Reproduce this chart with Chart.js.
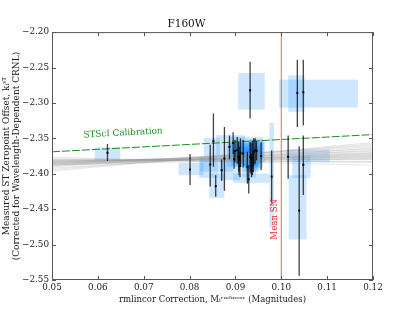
<!DOCTYPE html>
<html>
<head>
<meta charset="utf-8">
<script src="https://cdn.jsdelivr.net/npm/chart.js@4/dist/chart.umd.min.js"></script>
<style>
  html, body { margin: 0; padding: 0; background: #fff; }
  #wrap { width: 415px; height: 312px; }
</style>
</head>
<body>
<div id="wrap"><canvas id="chart" width="415" height="312"></canvas></div>
<script>
// measured SN points
const snX = [0.0621, 0.0801, 0.0845, 0.0852, 0.0857, 0.0870, 0.0876, 0.0887, 0.0895, 0.0899,
  0.0897, 0.0904, 0.0907, 0.0908, 0.0910, 0.0911, 0.0917, 0.0926, 0.0929, 0.0932,
  0.0934, 0.0935, 0.0937, 0.0939, 0.0940, 0.0943, 0.0946, 0.0956, 0.0979, 0.0932,
  0.1015, 0.1035, 0.1048, 0.1048, 0.1039];
const snY = [-2.3705, -2.394, -2.387, -2.354, -2.4175, -2.395, -2.3785, -2.362, -2.3565, -2.368,
  -2.3795, -2.3668, -2.376, -2.3795, -2.389, -2.3705, -2.3715, -2.390, -2.4077, -2.376,
  -2.3795, -2.389, -2.378, -2.384, -2.369, -2.3668, -2.3677, -2.375, -2.404, -2.2822,
  -2.376, -2.286, -2.285, -2.3874, -2.452];
const errLo = [-2.382, -2.416, -2.418, -2.390, -2.4325, -2.410, -2.424, -2.3795, -2.372, -2.384,
  -2.393, -2.386, -2.397, -2.402, -2.405, -2.390, -2.391, -2.414, -2.428, -2.398,
  -2.400, -2.405, -2.402, -2.398, -2.389, -2.386, -2.381, -2.395, -2.441, -2.322,
  -2.407, -2.334, -2.332, -2.430, -2.544];
const errHi = [-2.358, -2.372, -2.359, -2.315, -2.402, -2.380, -2.334, -2.346, -2.3415, -2.352,
  -2.366, -2.348, -2.355, -2.362, -2.372, -2.350, -2.352, -2.369, -2.388, -2.355,
  -2.357, -2.372, -2.354, -2.368, -2.350, -2.350, -2.354, -2.356, -2.367, -2.242,
  -2.346, -2.239, -2.239, -2.346, -2.361];

// shaded boxes
const boxX0 = [0.0593, 0.0776, 0.0821, 0.0831, 0.0843, 0.0866, 0.0858, 0.0881, 0.0888, 0.0888,
  0.0823, 0.0895, 0.0899, 0.0890, 0.0895, 0.0900, 0.0905, 0.0913, 0.0915, 0.0918,
  0.0920, 0.0921, 0.0924, 0.0926, 0.0928, 0.0930, 0.0932, 0.0930, 0.0974, 0.0906,
  0.1011, 0.1015, 0.0995, 0.1024, 0.1016];
const boxX1 = [0.0649, 0.0830, 0.0862, 0.0866, 0.0876, 0.0910, 0.0921, 0.0939, 0.0961, 0.0930,
  0.0895, 0.0945, 0.0950, 0.0930, 0.0974, 0.0940, 0.0955, 0.0950, 0.0945, 0.0955,
  0.0960, 0.0950, 0.0952, 0.0955, 0.0958, 0.0960, 0.0962, 0.0965, 0.0984, 0.0964,
  0.1106, 0.1051, 0.1167, 0.1064, 0.1055];
const boxY0 = [-2.381, -2.402, -2.4058, -2.3762, -2.434, -2.409, -2.3738, -2.390, -2.3738, -2.382,
  -2.397, -2.378, -2.390, -2.388, -2.4128, -2.384, -2.385, -2.398, -2.405, -2.388,
  -2.392, -2.396, -2.390, -2.394, -2.380, -2.378, -2.378, -2.385, -2.476, -2.3095,
  -2.3832, -2.3127, -2.3066, -2.4058, -2.4927];
const boxY1 = [-2.3626, -2.3846, -2.3762, -2.3494, -2.3997, -2.3738, -2.3456, -2.357, -2.348, -2.356,
  -2.3785, -2.352, -2.362, -2.365, -2.3997, -2.357, -2.360, -2.380, -2.385, -2.363,
  -2.368, -2.375, -2.364, -2.372, -2.355, -2.352, -2.356, -2.352, -2.328, -2.2578,
  -2.3658, -2.261, -2.2672, -2.374, -2.402];

// fitted relations, value at x = 0.05 and x = 0.12
const fitLeft = [-2.377, -2.379, -2.380, -2.381, -2.382, -2.383, -2.383, -2.384, -2.385, -2.385,
  -2.386, -2.386, -2.387, -2.388, -2.389, -2.390, -2.392, -2.394, -2.396, -2.381, -2.384, -2.387];
const fitRight = [-2.388, -2.384, -2.380, -2.377, -2.379, -2.375, -2.372, -2.370, -2.376, -2.368,
  -2.373, -2.365, -2.371, -2.362, -2.367, -2.360, -2.364, -2.358, -2.356, -2.383, -2.374, -2.378];

const stsciX = [0.05, 0.12];
const stsciY = [-2.369, -2.3447];
const meanSN = 0.10;

const serif = "'DejaVu Serif', serif";

const datasets = [];
fitLeft.forEach((yl, i) => {
  datasets.push({
    type: "line",
    data: [{ x: 0.05, y: yl }, { x: 0.12, y: fitRight[i] }],
    borderColor: "rgba(150,150,150,0.22)",
    borderWidth: 1.2,
    pointRadius: 0,
    order: 5,
  });
});
datasets.push({
  type: "line",
  data: [{ x: stsciX[0], y: stsciY[0] }, { x: stsciX[1], y: stsciY[1] }],
  borderColor: "rgb(30,140,30)",
  borderWidth: 1,
  borderDash: [8, 2],
  pointRadius: 0,
  order: 4,
});
datasets.push({
  type: "line",
  data: [{ x: meanSN, y: -2.55 }, { x: meanSN, y: -2.20 }],
  borderColor: "rgba(240,80,80,0.9)",
  borderWidth: 1,
  pointRadius: 0,
  order: 3,
});
datasets.push({
  type: "scatter",
  data: snX.map((x, i) => ({ x: x, y: snY[i] })),
  backgroundColor: "#000",
  borderColor: "#000",
  pointStyle: "rect",
  pointRadius: 1.4,
  borderWidth: 0,
  order: 1,
});

const extras = {
  id: "extras",
  beforeDatasetsDraw(chart) {
    const { ctx, chartArea: a, scales: { x, y } } = chart;
    ctx.save();
    ctx.beginPath();
    ctx.rect(a.left, a.top, a.right - a.left, a.bottom - a.top);
    ctx.clip();
    ctx.fillStyle = "rgba(30,144,255,0.22)";
    boxX0.forEach((bx, i) => {
      const x0 = x.getPixelForValue(bx), x1 = x.getPixelForValue(boxX1[i]);
      const y0 = y.getPixelForValue(boxY0[i]), y1 = y.getPixelForValue(boxY1[i]);
      ctx.fillRect(x0, y1, x1 - x0, y0 - y1);
    });
    ctx.restore();
  },
  afterDatasetsDraw(chart) {
    const { ctx, scales: { x, y } } = chart;
    ctx.save();
    // error bars
    ctx.strokeStyle = "rgba(0,0,0,0.75)";
    ctx.lineWidth = 1.3;
    snX.forEach((sx, i) => {
      const px = x.getPixelForValue(sx);
      ctx.beginPath();
      ctx.moveTo(px, y.getPixelForValue(errLo[i]));
      ctx.lineTo(px, y.getPixelForValue(errHi[i]));
      ctx.stroke();
    });
    // labels
    ctx.font = "8.8px " + serif;
    ctx.fillStyle = "rgb(30,140,30)";
    const lx = x.getPixelForValue(0.0569), ly = y.getPixelForValue(-2.3488);
    const ang = Math.atan2(y.getPixelForValue(stsciY[1]) - y.getPixelForValue(stsciY[0]),
      x.getPixelForValue(stsciX[1]) - x.getPixelForValue(stsciX[0]));
    ctx.translate(lx, ly);
    ctx.rotate(ang);
    ctx.textAlign = "left";
    ctx.textBaseline = "alphabetic";
    ctx.fillText("STScI Calibration", 0, 0);
    ctx.setTransform(1, 0, 0, 1, 0, 0);
    ctx.font = "8.6px " + serif;
    ctx.fillStyle = "rgb(240,40,40)";
    ctx.translate(x.getPixelForValue(0.0985), y.getPixelForValue(-2.493));
    ctx.rotate(-Math.PI / 2);
    ctx.textAlign = "left";
    ctx.textBaseline = "middle";
    ctx.fillText("Mean SN", 0, 0);
    ctx.restore();
  },
  afterDraw(chart) {
    const { ctx, chartArea: a, scales: { x, y } } = chart;
    ctx.save();
    ctx.strokeStyle = "#555";
    ctx.lineWidth = 1;
    ctx.strokeRect(a.left + 0.5, a.top + 0.5, a.right - a.left - 1, a.bottom - a.top - 1);
    ctx.beginPath();
    x.ticks.forEach(t => {
      const px = Math.round(x.getPixelForValue(t.value)) + 0.5;
      ctx.moveTo(px, a.bottom); ctx.lineTo(px, a.bottom - 4);
      ctx.moveTo(px, a.top); ctx.lineTo(px, a.top + 4);
    });
    y.ticks.forEach(t => {
      const py = Math.round(y.getPixelForValue(t.value)) + 0.5;
      ctx.moveTo(a.left, py); ctx.lineTo(a.left + 4, py);
      ctx.moveTo(a.right, py); ctx.lineTo(a.right - 4, py);
    });
    ctx.stroke();
    ctx.restore();
  },
};

new Chart(document.getElementById("chart"), {
  type: "scatter",
  data: { datasets: datasets },
  options: {
    responsive: false,
    animation: false,
    layout: { padding: { right: 42, left: 0 } },
    plugins: {
      legend: { display: false },
      tooltip: { enabled: false },
      title: {
        display: true,
        text: "F160W",
        color: "#111",
        font: { family: serif, size: 10.5, weight: "normal", lineHeight: 1.2 },
        padding: { top: 17.5, bottom: 2 },
      },
    },
    scales: {
      x: {
        type: "linear",
        min: 0.05,
        max: 0.12,
        afterFit: s => { s.height = 32; },
        grid: { display: false, drawTicks: false },
        border: { display: false },
        ticks: {
          stepSize: 0.01,
          padding: 2,
          color: "#222",
          font: { family: serif, size: 8.8 },
          callback: v => v.toFixed(2),
        },
        title: {
          display: true,
          text: "rmlincor Correction, Mᵢʳᵐˡⁱⁿᶜᵒʳ (Magnitudes)",
          color: "#222",
          font: { family: serif, size: 8.5, lineHeight: 1.2 },
          padding: { top: 0, bottom: 7 },
        },
      },
      y: {
        type: "linear",
        min: -2.55,
        max: -2.20,
        afterFit: s => { s.width = 52; },
        grid: { display: false, drawTicks: false },
        border: { display: false },
        ticks: {
          stepSize: 0.05,
          padding: 3,
          color: "#222",
          font: { family: serif, size: 8.8 },
          callback: v => "\u2212" + Math.abs(v).toFixed(2),
        },
        title: {
          display: true,
          text: ["Measured ST Zeropoint Offset, kᵢˢᵀ", "(Corrected for Wavelength-Dependent CRNL)"],
          color: "#222",
          font: { family: serif, size: 9, lineHeight: 1.1 },
          padding: { top: 2, bottom: 0 },
        },
      },
    },
  },
  plugins: [extras],
});
</script>
</body>
</html>
